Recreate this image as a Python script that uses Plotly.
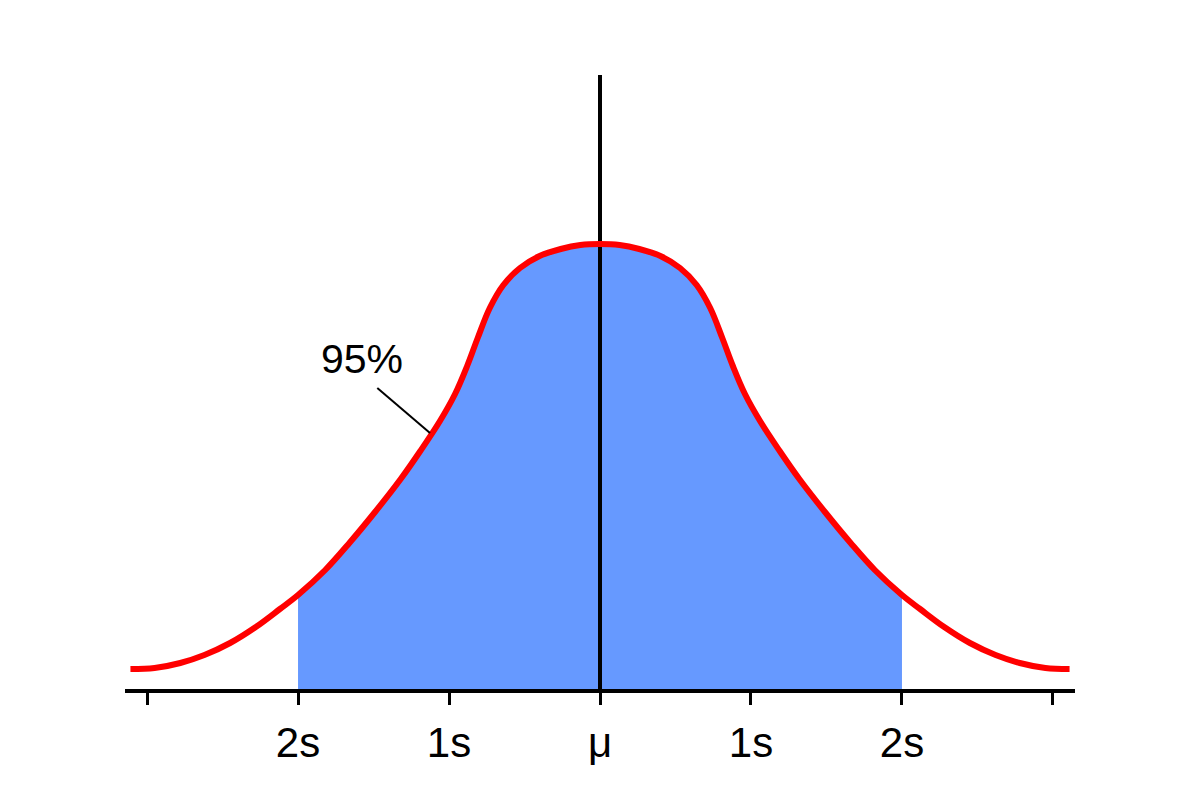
import plotly.graph_objects as go

# x positions in units of s (standard deviations from the mean), curve heights (arbitrary units)
curve_x = [-3.11, -2.95, -2.78, -2.62, -2.45, -2.28, -2.12, -2.0, -1.82, -1.66, -1.49, -1.32,
           -1.19, -1.06, -0.96, -0.88, -0.81, -0.73, -0.64, -0.53, -0.40, -0.26, -0.13, 0.0,
           0.13, 0.26, 0.40, 0.53, 0.64, 0.73, 0.81, 0.88, 0.96, 1.06, 1.19,
           1.32, 1.49, 1.66, 1.82, 2.0, 2.12, 2.28, 2.45, 2.62, 2.78, 2.95, 3.11]
curve_y = [20, 21, 26, 34, 46, 62, 80, 94, 119, 146, 177, 210,
           238, 268, 295, 323, 351, 381, 404, 421, 433, 440, 444, 445,
           444, 440, 433, 421, 404, 381, 351, 323, 295, 268, 238,
           210, 177, 146, 119, 94, 80, 62, 46, 34, 26, 21, 20]

tick_vals = [-3, -2, -1, 0, 1, 2, 3]
tick_text = ["", "2s", "1s", "μ", "1s", "2s", ""]

shade_lo, shade_hi = -2.0, 2.0
mean_line_top = 615
label_text = "95%"
label_pos = (-1.576, 330)
leader_x = [-1.475, -1.126]
leader_y = [301, 256]

fill_x = [x for x in curve_x if shade_lo <= x <= shade_hi]
fill_y = [y for x, y in zip(curve_x, curve_y) if shade_lo <= x <= shade_hi]

FONT = "Liberation Sans, Arial, Helvetica, sans-serif"

fig = go.Figure()
fig.add_trace(go.Scatter(x=fill_x, y=fill_y, mode="lines", fill="tozeroy",
                         fillcolor="#6699FF", line=dict(width=0, shape="spline", smoothing=1),
                         hoverinfo="skip", showlegend=False))
fig.add_trace(go.Scatter(x=[0, 0], y=[0, mean_line_top], mode="lines",
                         line=dict(color="black", width=4), showlegend=False, cliponaxis=False))
fig.add_trace(go.Scatter(x=curve_x, y=curve_y, mode="lines",
                         line=dict(color="#FF0000", width=6, shape="spline", smoothing=1),
                         showlegend=False))
fig.add_trace(go.Scatter(x=leader_x, y=leader_y, mode="lines",
                         line=dict(color="black", width=2), showlegend=False))
fig.add_annotation(x=label_pos[0], y=label_pos[1], text=label_text, showarrow=False,
                   font=dict(family=FONT, size=41, color="black"))

fig.update_layout(
    width=1192, height=796,
    margin=dict(l=117, r=125, t=67, b=115),
    plot_bgcolor="white", paper_bgcolor="white",
    font=dict(family=FONT, size=42, color="black"),
    xaxis=dict(range=[-3.146, 3.146], tickvals=tick_vals, ticktext=tick_text,
               showgrid=False, zeroline=False, showline=True, linecolor="black", linewidth=4,
               ticks="outside", ticklen=12, tickwidth=3, tickcolor="black",
               ticklabelstandoff=2),
    yaxis=dict(range=[0, 614], visible=False, showgrid=False, zeroline=False),
)
fig.write_html("out.html")
